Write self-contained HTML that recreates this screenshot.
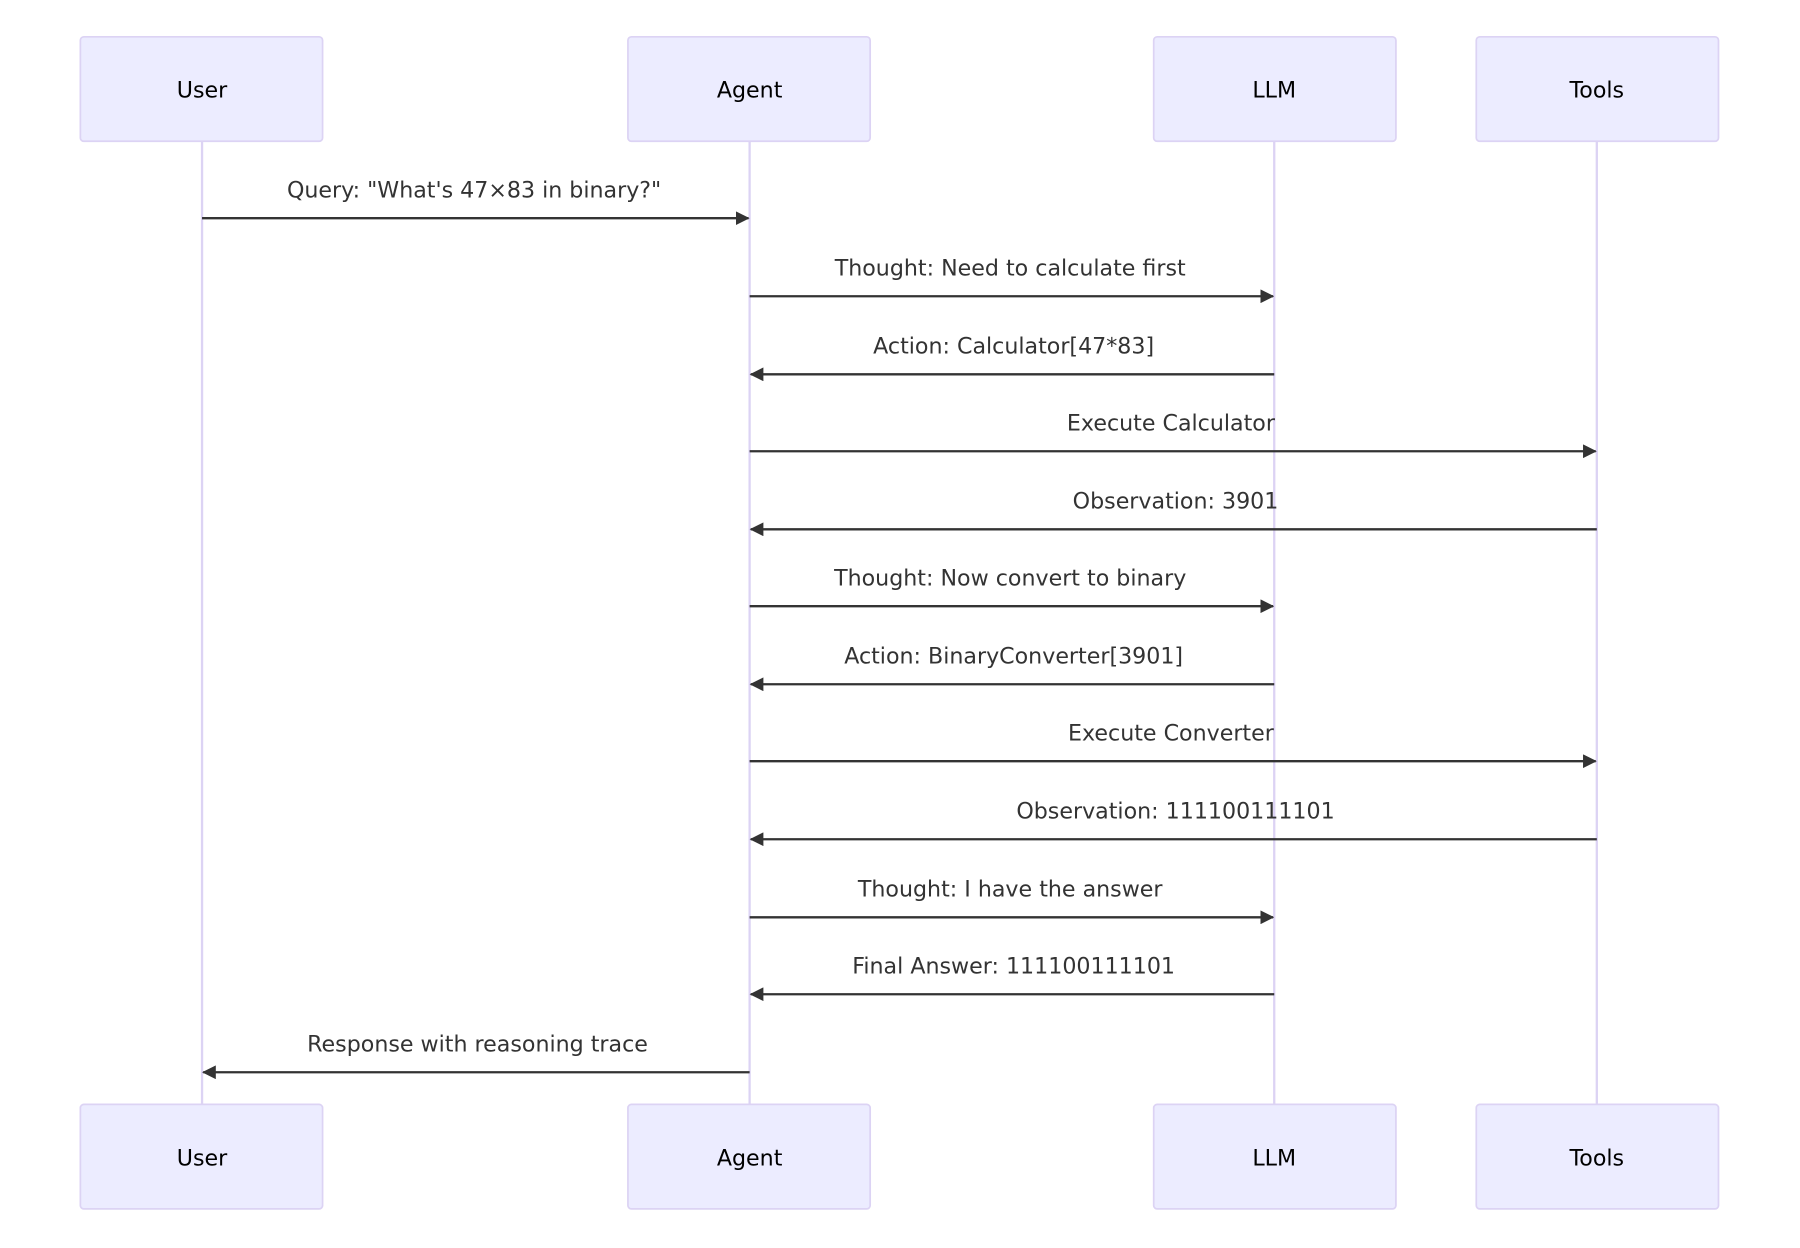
<!DOCTYPE html>
<html><head><meta charset="utf-8"><style>
html,body{margin:0;padding:0;background:#fff;}
svg{display:block}
text{font-family:"DejaVu Sans","Liberation Sans",sans-serif;}
</style></head><body>
<svg width="1800" height="1248" viewBox="0 0 1568 1087" xmlns="http://www.w3.org/2000/svg">
<defs>
<marker id="ah" markerWidth="12" markerHeight="12" refX="11" refY="6" orient="auto" markerUnits="userSpaceOnUse">
<path d="M0,0 L12,6 L0,12 z" fill="#333"/>
</marker>
</defs>
<g stroke="#DCD3F4" stroke-width="2">
<line x1="176" y1="123" x2="176" y2="962"/>
<line x1="653" y1="123" x2="653" y2="962"/>
<line x1="1110" y1="123" x2="1110" y2="962"/>
<line x1="1391" y1="123" x2="1391" y2="962"/>
</g>
<g fill="#ECECFF" stroke="#DCD3F4" stroke-width="1.5">
<rect x="70" y="32" width="211" height="91" rx="3"/>
<rect x="547" y="32" width="211" height="91" rx="3"/>
<rect x="1005" y="32" width="211" height="91" rx="3"/>
<rect x="1286" y="32" width="211" height="91" rx="3"/>
<rect x="70" y="962" width="211" height="91" rx="3"/>
<rect x="547" y="962" width="211" height="91" rx="3"/>
<rect x="1005" y="962" width="211" height="91" rx="3"/>
<rect x="1286" y="962" width="211" height="91" rx="3"/>
</g>
<g font-size="19.3" text-anchor="middle" fill="#000">
<text x="176" y="85">User</text><text x="653" y="85">Agent</text><text x="1110" y="85">LLM</text><text x="1391" y="85">Tools</text>
<text x="176" y="1015">User</text><text x="653" y="1015">Agent</text><text x="1110" y="1015">LLM</text><text x="1391" y="1015">Tools</text>
</g>
<g stroke="#333" stroke-width="2" marker-end="url(#ah)">
<line x1="176" y1="190" x2="652" y2="190"/>
<line x1="653" y1="258" x2="1109" y2="258"/>
<line x1="1110" y1="326" x2="654" y2="326"/>
<line x1="653" y1="393" x2="1390" y2="393"/>
<line x1="1391" y1="461" x2="654" y2="461"/>
<line x1="653" y1="528" x2="1109" y2="528"/>
<line x1="1110" y1="596" x2="654" y2="596"/>
<line x1="653" y1="663" x2="1390" y2="663"/>
<line x1="1391" y1="731" x2="654" y2="731"/>
<line x1="653" y1="799" x2="1109" y2="799"/>
<line x1="1110" y1="866" x2="654" y2="866"/>
<line x1="653" y1="934" x2="177" y2="934"/>
</g>
<g font-size="19.3" text-anchor="middle" fill="#333">
<text x="413" y="172">Query: "What's 47×83 in binary?"</text>
<text x="880" y="240">Thought: Need to calculate first</text>
<text x="883" y="308">Action: Calculator[47*83]</text>
<text x="1020" y="375">Execute Calculator</text>
<text x="1024" y="443">Observation: 3901</text>
<text x="880" y="510">Thought: Now convert to binary</text>
<text x="883" y="578">Action: BinaryConverter[3901]</text>
<text x="1020" y="645">Execute Converter</text>
<text x="1024" y="713">Observation: 111100111101</text>
<text x="880" y="781">Thought: I have the answer</text>
<text x="883" y="848">Final Answer: 111100111101</text>
<text x="416" y="916">Response with reasoning trace</text>
</g>
</svg>
</body></html>
